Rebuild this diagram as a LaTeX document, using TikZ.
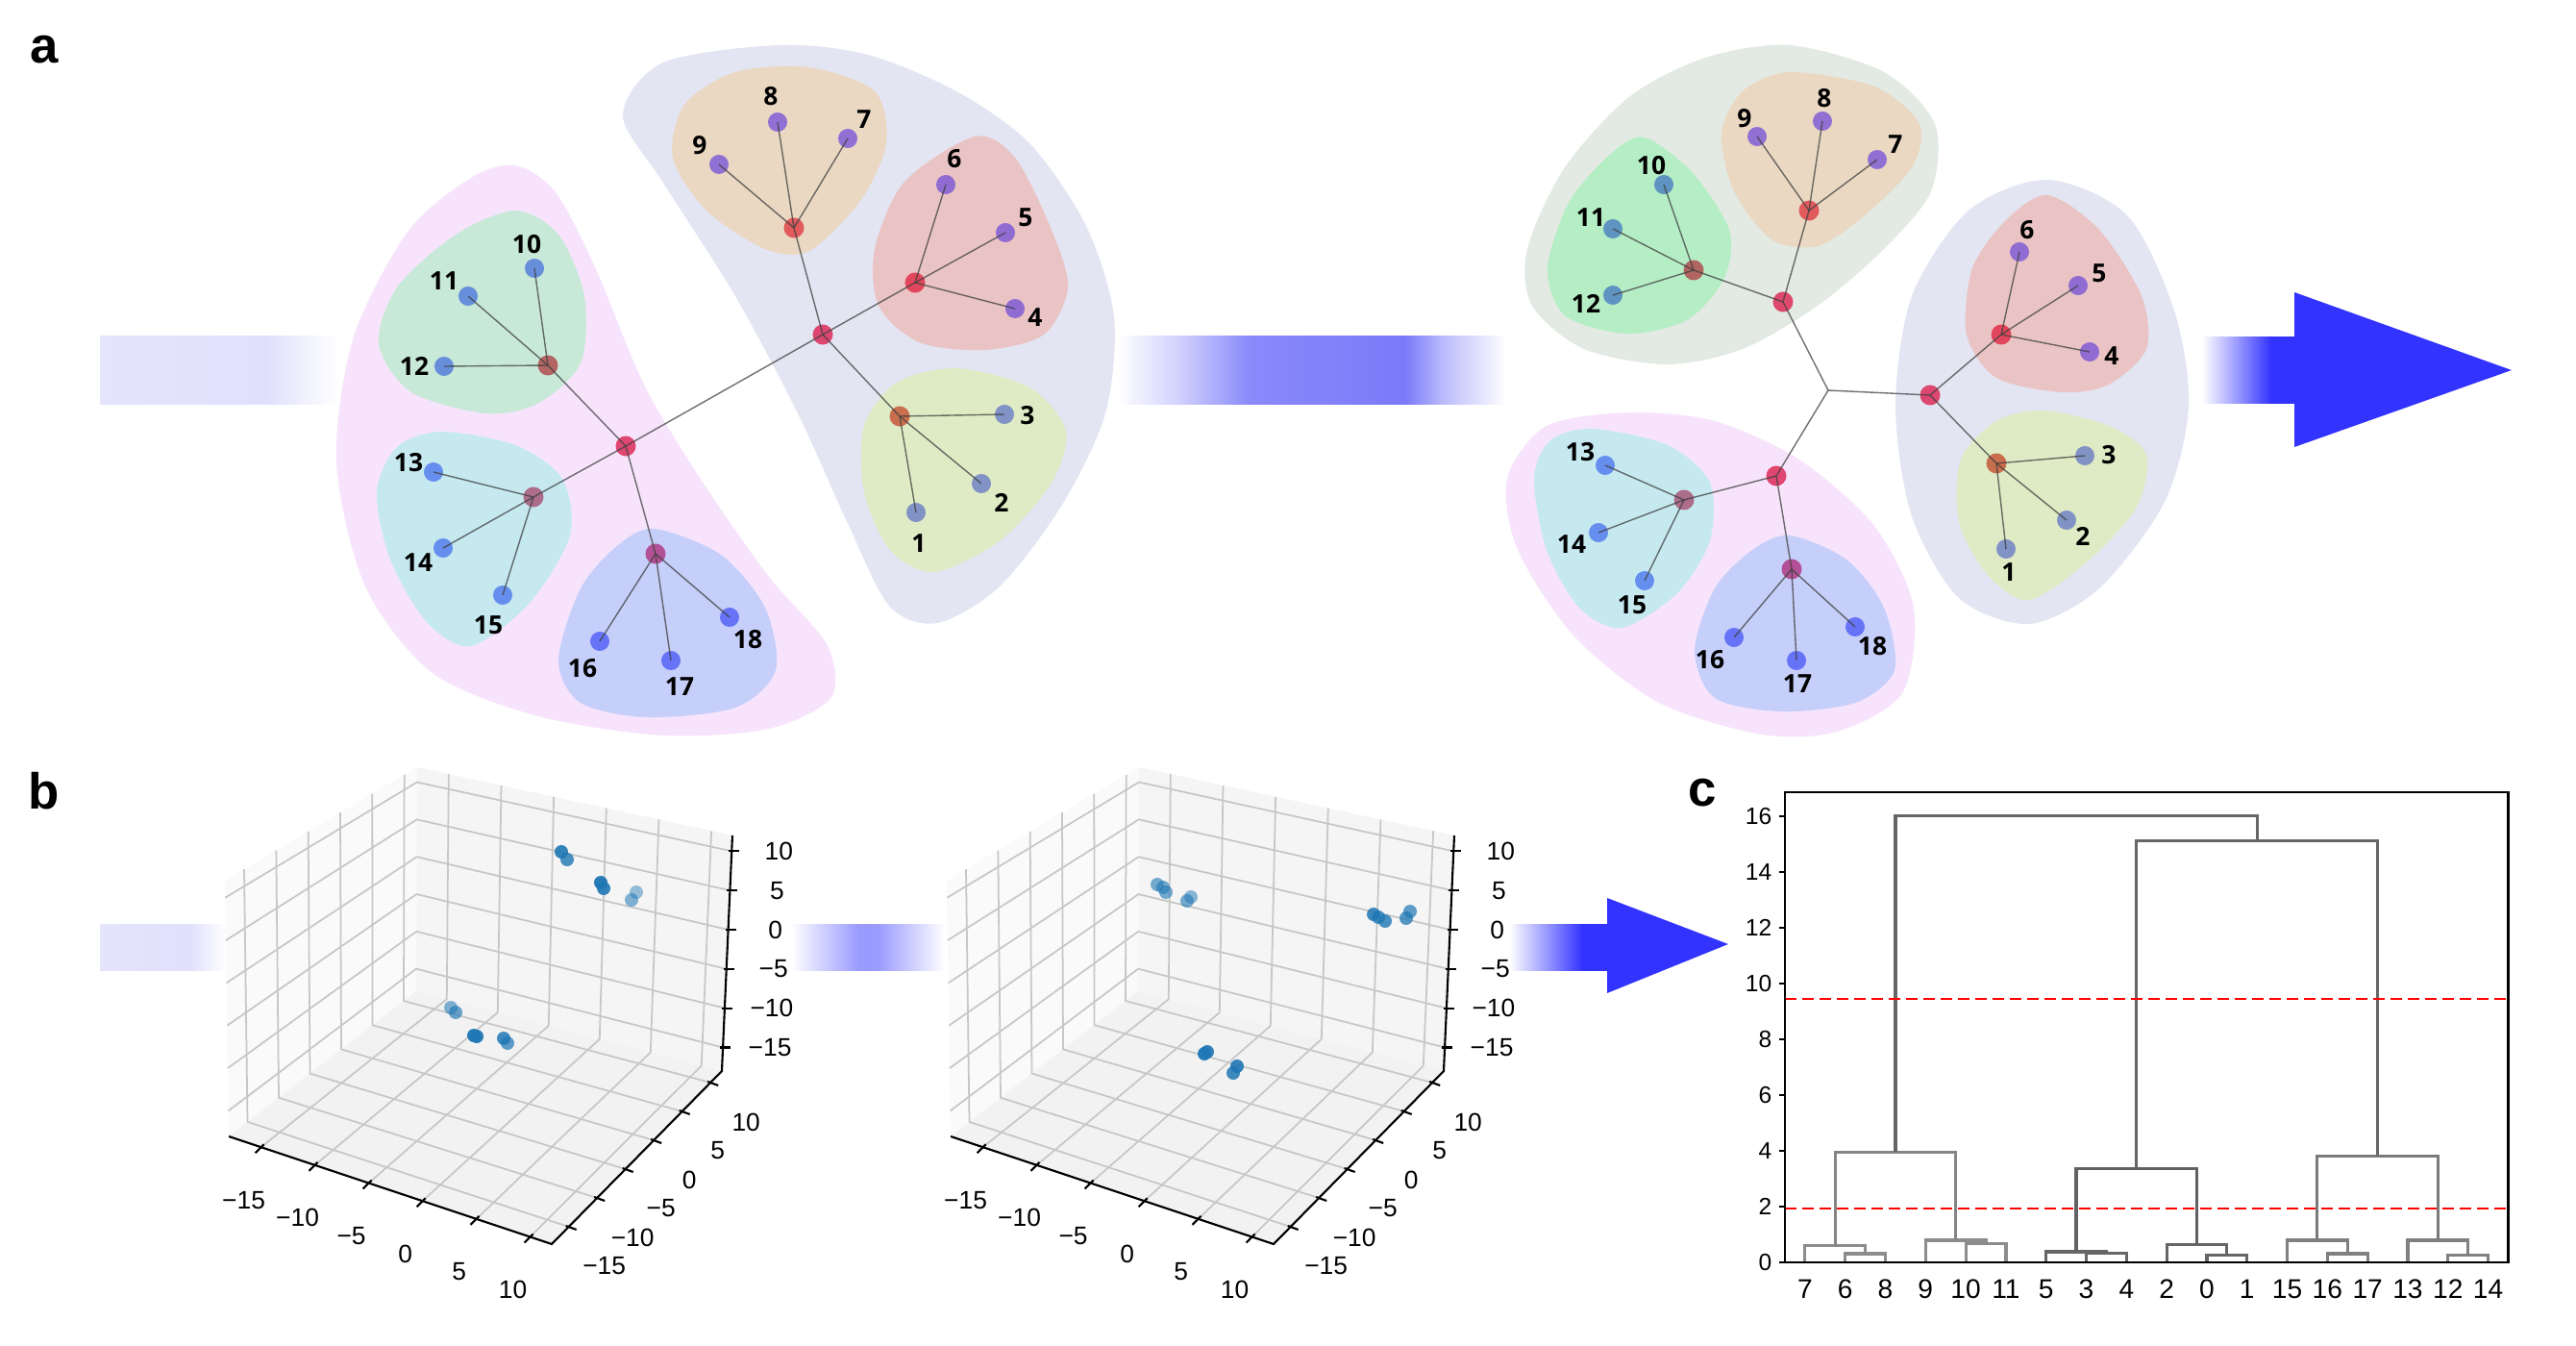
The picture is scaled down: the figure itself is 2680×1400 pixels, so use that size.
\documentclass[tikz,border=0pt]{standalone}
\usepackage{fontspec}
\setmainfont{Liberation Sans}
\newfontfamily\treefont{Open Sans}
\usetikzlibrary{calc}

\definecolor{bandA}{HTML}{E0E0FD}
\definecolor{bandM}{HTML}{7A7AFA}
\definecolor{bandN}{HTML}{9A9AFF}
\definecolor{arrowblue}{HTML}{3333FF}
\definecolor{blobgray}{HTML}{E3E5F3}
\definecolor{blobpink}{HTML}{F7E4FC}
\definecolor{blobora}{HTML}{EAD8C3}
\definecolor{blobred}{HTML}{EAC4C4}
\definecolor{blobyg}{HTML}{DFEBC4}
\definecolor{blobgreen}{HTML}{C8E9D8}
\definecolor{blobgreenb}{HTML}{B5EEC5}
\definecolor{blobcyan}{HTML}{C6E9F0}
\definecolor{blobblue}{HTML}{C6CFFA}
\definecolor{blobsage}{HTML}{E3EAE3}
\definecolor{leafA}{HTML}{6A7CC6}
\definecolor{leafB}{HTML}{7A56D6}
\definecolor{leafC}{HTML}{4F78DC}
\definecolor{leafCb}{HTML}{4A7EC2}
\definecolor{leafD}{HTML}{4E78EE}
\definecolor{leafE}{HTML}{4E5CF6}
\definecolor{ctrO}{HTML}{E0444A}
\definecolor{ctrR}{HTML}{E0304A}
\definecolor{ctrY}{HTML}{C65A3A}
\definecolor{ctrG}{HTML}{B04E50}
\definecolor{ctrC}{HTML}{A8587A}
\definecolor{ctrB}{HTML}{B03C86}
\definecolor{hubc}{HTML}{DC2C58}
\definecolor{mpl}{HTML}{1F77B4}

\pgfdeclarehorizontalshading{bandleft}{100bp}{color(0bp)=(bandA); color(25bp)=(bandA!85); color(60bp)=(bandA); color(75bp)=(white); color(100bp)=(white)}
\pgfdeclarehorizontalshading{bandmid}{100bp}{color(0bp)=(white); color(25bp)=(white); color(33bp)=(bandM!35); color(42bp)=(bandM!88); color(62bp)=(bandM); color(67bp)=(bandM!50); color(75bp)=(white); color(100bp)=(white)}
\pgfdeclarehorizontalshading{bandlow}{100bp}{color(0bp)=(white); color(25bp)=(white); color(47bp)=(bandN); color(53bp)=(bandN); color(75bp)=(white); color(100bp)=(white)}
\pgfdeclarehorizontalshading{bandtip}{100bp}{color(0bp)=(white); color(25bp)=(white); color(42bp)=(arrowblue!45); color(62bp)=(arrowblue); color(75bp)=(arrowblue); color(100bp)=(arrowblue)}

\tikzset{
  leaf/.style={circle, inner sep=0pt, minimum size=0.2cm, fill=#1, fill opacity=0.8},
  hub/.style={circle, inner sep=0pt, minimum size=0.21cm, fill=#1, fill opacity=0.85},
  branch/.style={draw=black!75, line width=0.4pt, opacity=0.75},
  lab/.style={font=\treefont\bfseries\fontsize{7.5}{9}\selectfont, inner sep=0pt},
  panel/.style={font=\bfseries\fontsize{15}{18}\selectfont, inner sep=0pt},
  pane/.style={fill=black!3},
  gridline/.style={draw=black!22, line width=0.5pt},
  axline/.style={draw=black, line width=0.6pt},
  ticklab/.style={font=\fontsize{7.5}{9}\selectfont, inner sep=0pt},
  pt3d/.style={fill=mpl},
  dlink/.style={line width=0.9pt},
  cutline/.style={draw=red, line width=0.6pt, dash pattern=on 0.12cm off 0.06cm},
}

\begin{document}
\begin{tikzpicture}[x=0.01cm, y=-0.01cm]
\fill[white] (0,0) rectangle (2680,1400);
\useasboundingbox (0,0) rectangle (2680,1400);

% panel a: arrows
\shade[shading=bandleft] (104,350) rectangle (352,421);
\shade[shading=bandmid] (1162,350) rectangle (1567,421);
\shade[shading=bandtip] (2291,351) rectangle (2388,420);
\fill[arrowblue] (2387,304) -- (2613,385) -- (2387,465) -- cycle;

% panel a: blobs, first tree
\fill[blobgray] plot[smooth cycle] coordinates {(811,47) (903,57) (995,95) (1071,149) (1130,235) (1159,330) (1150,430) (1105,525) (1040,610) (975,648) (925,630) (880,540) (830,430) (765,308) (690,190) (648,120) (690,65)};
\fill[blobpink] plot[smooth cycle] coordinates {(536,172) (578,200) (620,280) (670,400) (730,500) (800,600) (860,670) (865,725) (800,758) (690,765) (560,745) (450,700) (380,610) (350,480) (368,350) (425,240) (490,185)};
\fill[blobora] plot[smooth cycle] coordinates {(842,70) (910,95) (922,149) (895,209) (842,261) (796,259) (735,219) (700,164) (712,109) (765,75)};
\fill[blobred] plot[smooth cycle] coordinates {(1014,142) (1056,164) (1094,239) (1111,299) (1086,348) (1025,364) (956,356) (914,318) (910,259) (941,189)};
\fill[blobyg] plot[smooth cycle] coordinates {(995,383) (1071,403) (1109,448) (1094,502) (1041,562) (972,595) (926,572) (899,512) (899,443) (933,398)};
\fill[blobgreen] plot[smooth cycle] coordinates {(536,219) (581,244) (608,308) (604,378) (559,420) (505,430) (428,408) (394,358) (413,299) (474,244)};
\fill[blobcyan] plot[smooth cycle] coordinates {(459,449) (536,463) (585,498) (593,557) (551,627) (490,672) (444,647) (406,582) (392,512) (413,465)};
\fill[blobblue] plot[smooth cycle] coordinates {(681,550) (750,577) (796,632) (807,697) (765,736) (673,746) (604,731) (581,687) (604,612) (643,567)};

% panel a: blobs, second tree
\fill[blobsage] plot[smooth cycle] coordinates {(1862,47) (1960,75) (2013,129) (2009,199) (1960,259) (1891,318) (1813,363) (1735,379) (1648,363) (1594,318) (1589,259) (1628,174) (1696,100) (1774,60)};
\fill[blobora] plot[smooth cycle] coordinates {(1862,75) (1950,90) (1997,129) (1989,174) (1940,224) (1891,256) (1843,249) (1804,199) (1791,139) (1813,95)};
\fill[blobgreenb] plot[smooth cycle] coordinates {(1711,143) (1760,179) (1799,239) (1794,289) (1755,333) (1691,347) (1628,328) (1610,279) (1633,209) (1677,159)};
\fill[blobgray] plot[smooth cycle] coordinates {(2130,187) (2213,224) (2262,323) (2277,423) (2252,522) (2184,612) (2111,649) (2038,622) (1989,537) (1972,423) (1989,308) (2048,219)};
\fill[blobred] plot[smooth cycle] coordinates {(2130,203) (2184,239) (2228,308) (2233,363) (2194,400) (2145,408) (2077,393) (2046,348) (2052,279) (2087,229)};
\fill[blobyg] plot[smooth cycle] coordinates {(2126,427) (2194,443) (2233,473) (2223,527) (2174,582) (2111,624) (2067,597) (2038,542) (2040,478) (2077,438)};
\fill[blobpink] plot[smooth cycle] coordinates {(1696,429) (1784,438) (1872,478) (1950,547) (1991,632) (1979,721) (1911,761) (1833,764) (1726,731) (1638,662) (1579,572) (1568,498) (1609,443)};
\fill[blobcyan] plot[smooth cycle] coordinates {(1657,446) (1735,463) (1779,502) (1779,562) (1745,617) (1687,653) (1643,632) (1609,572) (1596,498) (1613,458)};
\fill[blobblue] plot[smooth cycle] coordinates {(1862,557) (1921,582) (1960,632) (1971,697) (1930,731) (1852,740) (1784,726) (1763,677) (1784,612) (1823,572)};

% first tree
\node[hub=ctrO] (aO) at (826,237) {};
\node[hub=ctrR] (aR) at (952,294) {};
\node[hub=ctrY] (aY) at (936,433) {};
\node[hub=hubc] (aH) at (856,348) {};
\node[hub=ctrG] (aG) at (570,380) {};
\node[hub=hubc] (aP) at (651,464) {};
\node[hub=ctrC] (aC) at (555,517) {};
\node[hub=ctrB] (aB) at (682,576) {};
\foreach \n/\c/\x/\y/\lx/\ly in {1/leafA/953/533/956/565, 2/leafA/1021/503/1042/523, 3/leafA/1045/431/1069/432,
    4/leafB/1056/321/1077/330, 5/leafB/1046/242/1067/226, 6/leafB/984/192/993/165,
    7/leafB/882/144/899/124, 8/leafB/809/127/802/100, 9/leafB/748/171/728/151,
    10/leafC/556/279/548/254, 11/leafC/487/308/462/292, 12/leafC/462/381/431/381,
    13/leafD/451/491/425/481, 14/leafD/461/570/435/585, 15/leafD/523/619/508/650,
    16/leafE/624/667/606/695, 17/leafE/698/687/707/714, 18/leafE/759/642/778/665}{
  \node[leaf=\c] (a\n) at (\x,\y) {};
  \node[lab] (at\n) at (\lx,\ly) {\n};
}
\foreach \s/\t in {a1/aY, a2/aY, a3/aY, a4/aR, a5/aR, a6/aR, a7/aO, a8/aO, a9/aO,
    a10/aG, a11/aG, a12/aG, a13/aC, a14/aC, a15/aC, a16/aB, a17/aB, a18/aB,
    aY/aH, aR/aH, aO/aH, aG/aP, aC/aP, aB/aP, aH/aP}
  \draw[branch] (\s.center) -- (\t.center);

% second tree
\coordinate (bJ) at (1902,406);
\node[hub=ctrO] (bO) at (1882,219) {};
\node[hub=ctrG] (bG) at (1762,281) {};
\node[hub=hubc] (bS) at (1855,314) {};
\node[hub=hubc] (bH) at (2008,411) {};
\node[hub=ctrR] (bR) at (2082,348) {};
\node[hub=ctrY] (bY) at (2077,482) {};
\node[hub=hubc] (bP) at (1848,495) {};
\node[hub=ctrC] (bC) at (1752,520) {};
\node[hub=ctrB] (bB) at (1864,592) {};
\foreach \n/\c/\x/\y/\lx/\ly in {1/leafA/2087/571/2090/595, 2/leafA/2150/541/2167/558, 3/leafA/2169/474/2194/473,
    4/leafB/2174/366/2197/370, 5/leafB/2162/297/2184/284, 6/leafB/2101/262/2109/239,
    7/leafB/1953/166/1972/150, 8/leafB/1896/126/1898/102, 9/leafB/1828/142/1815/123,
    10/leafCb/1731/192/1718/172, 11/leafCb/1678/238/1655/226, 12/leafCb/1678/307/1650/316,
    13/leafD/1670/484/1644/470, 14/leafD/1663/554/1635/566, 15/leafD/1711/604/1698/629,
    16/leafE/1804/663/1779/686, 17/leafE/1869/687/1870/711, 18/leafE/1930/652/1948/672}{
  \node[leaf=\c] (b\n) at (\x,\y) {};
  \node[lab] (bt\n) at (\lx,\ly) {\n};
}
\foreach \s/\t in {b1/bY, b2/bY, b3/bY, b4/bR, b5/bR, b6/bR, b7/bO, b8/bO, b9/bO,
    b10/bG, b11/bG, b12/bG, b13/bC, b14/bC, b15/bC, b16/bB, b17/bB, b18/bB,
    bO/bS, bG/bS, bR/bH, bY/bH, bC/bP, bB/bP, bS/bJ, bH/bJ, bP/bJ}
  \draw[branch] (\s.center) -- (\t.center);

% panel b: arrows
\shade[shading=bandleft] (104,961) rectangle (236,1009);
\shade[shading=bandlow] (823,961) rectangle (983,1009);
\shade[shading=bandtip] (1570,961) rectangle (1673,1009);
\fill[arrowblue] (1672,934) -- (1798,982) -- (1672,1033) -- cycle;

% panel b: two 3d scatter plots
\foreach \sx in {0,751}{
\begin{scope}[shift={(\sx,0)}]
  \coordinate (pL) at (238,1182);
  \coordinate (pF) at (574,1294);
  \coordinate (pR) at (751,1114);
  \coordinate (pB) at (433,1031);
  \coordinate (pLT) at (234,916);
  \coordinate (pBT) at (434,798);
  \coordinate (pRT) at (762,869);
  \fill[pane, fill=black!2] (pL) -- (pB) -- (pBT) -- (pLT) -- cycle;
  \fill[pane, fill=black!4] (pB) -- (pR) -- (pRT) -- (pBT) -- cycle;
  \fill[pane, fill=black!5] (pL) -- (pF) -- (pR) -- (pB) -- cycle;
  \foreach \f/\t [count=\i] in {0.1/−15, 0.2667/−10, 0.4333/−5, 0.6/0, 0.7667/5, 0.9333/10}{
    \draw[gridline] ($(pL)!\f!(pF)$) -- ($(pB)!\f!(pR)$) -- ($(pBT)!\f!(pRT)$);
    \draw[gridline] ($(pF)!\f!(pR)$) -- ($(pL)!\f!(pB)$) -- ($(pLT)!\f!(pBT)$);
    \draw[gridline] ($(pL)!\f!(pLT)$) -- ($(pB)!\f!(pBT)$) -- ($(pR)!\f!(pRT)$);
    \draw[axline] ($(pL)!\f!(pF)+(3,-3)$) -- ++(-9,9);
    \draw[axline] ($(pF)!\f!(pR)+(-3,-1)$) -- ++(11,4);
    \draw[axline] ($(pR)!\f!(pRT)+(-3,0)$) -- ++(11,0);
    \node[ticklab] (xt\sx-\i) at ($(pL)!\f!(pF)+(-18,55)$) {\t};
    \node[ticklab] (yt\sx-\i) at ($(pF)!\f!(pR)+(37,41)$) {\t};
    \node[ticklab] (zt\sx-\i) at ($(pR)!\f!(pRT)+(49,0)$) {\t};
  }
  \draw[axline] (pL) -- (pF) -- (pR) -- (pRT);
\end{scope}}
\foreach \x/\y/\o in {584/886/0.9, 590/894/0.8, 625/918/0.95, 628/924/0.9, 657/936/0.55, 662/928/0.45,
    469/1048/0.55, 474/1053/0.65, 493/1077/0.95, 496/1078/0.95, 524/1080/0.85, 528/1085/0.7,
    1204/920/0.6, 1210/923/0.6, 1213/928/0.6, 1235/937/0.6, 1239/933/0.5, 1429/951/0.85, 1434/954/0.8,
    1441/958/0.8, 1463/955/0.75, 1467/948/0.7, 1253/1096/0.95, 1256/1094/0.9, 1283/1116/0.85, 1287/1109/0.9}
  \fill[pt3d, fill opacity=\o] (\x,\y) circle (0.07cm);

% panel c: dendrogram
\begin{scope}[shift={(1857,1313)}, x=0.04178cm, y=0.29cm]
  \foreach \ua/\va/\ub/\vb/\h/\c in {15/0/25/0/0.31/black!45, 5/0/20/0.31/0.59/black!45,
      45/0/55/0/0.68/black!45, 35/0/50/0.68/0.79/black!45, 12.5/0.59/42.5/0.79/3.96/black!48,
      75/0/85/0/0.34/black!60, 65/0/80/0.34/0.38/black!60, 105/0/115/0/0.27/black!60,
      95/0/110/0.27/0.65/black!60, 72.5/0.38/102.5/0.65/3.35/black!62,
      135/0/145/0/0.31/black!50, 125/0/140/0.31/0.79/black!50, 165/0/175/0/0.27/black!50,
      155/0/170/0.27/0.79/black!50, 132.5/0.79/162.5/0.79/3.81/black!52,
      87.5/3.35/147.5/3.81/15.12/black!60, 27.5/3.96/117.5/15.12/16.02/black!60}
    \draw[dlink, draw=\c] (\ua,\va) |- (\ub,\h) -- (\ub,\vb);
  \draw[cutline] (0,9.44) -- (180,9.44);
  \draw[cutline] (0,1.92) -- (180,1.92);
  \draw[axline, line width=0.7pt] (0,0) rectangle (180,16.86);
  \foreach \v in {0,2,...,16}{
    \draw[axline] (0,\v) -- (-1.4,\v);
    \node[ticklab, anchor=east, font=\fontsize{7}{8}\selectfont] (ct\v) at (-3.1,\v) {\v};
  }
  \foreach \t [count=\i from 0] in {7,6,8,9,10,11,5,3,4,2,0,1,15,16,17,13,12,14}
    \node[ticklab, font=\fontsize{8}{9}\selectfont] (cl\i) at (5+10*\i,-0.97) {\t};
\end{scope}

% panel labels
\node[panel] (pa) at (46,52) {a};
\node[panel] (pb) at (46,823) {b};
\node[panel] (pc) at (1771,825) {c};
\end{tikzpicture}
\end{document}
